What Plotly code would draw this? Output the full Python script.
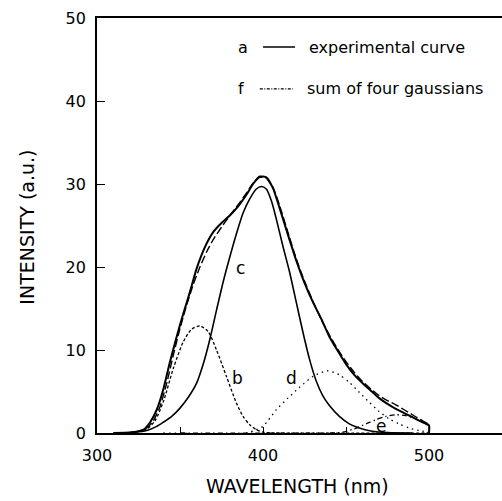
import plotly.graph_objects as go

# ---- data ----
wl_a = [310, 320, 325, 328, 332, 336, 340, 344, 348, 352, 356, 360, 365, 370, 375, 380,
        385, 390, 394, 398, 402, 406, 410, 415, 420, 425, 430, 435, 440, 445, 450, 455,
        460, 465, 470, 475, 480, 485, 490, 495, 500, 500]
int_a = [0, 0.05, 0.2, 0.4, 1.3, 2.8, 5.3, 8.6, 11.6, 14.4, 17.0, 19.8, 22.4, 24.2, 25.3, 26.2,
         27.3, 28.7, 30.0, 30.9, 30.8, 29.5, 27.1, 23.9, 20.8, 18.1, 15.8, 13.8, 11.6, 9.9, 8.3, 7.0,
         6.0, 5.1, 4.2, 3.5, 2.9, 2.4, 1.9, 1.4, 0.9, 0]

wl_f = [310, 320, 325, 330, 334, 338, 342, 346, 350, 354, 358, 362, 366, 370, 375, 380,
        385, 390, 394, 398, 402, 406, 410, 415, 420, 425, 430, 435, 440, 445, 450, 455,
        460, 465, 470, 475, 480, 485, 490, 495, 500, 500]
int_f = [0, 0.05, 0.2, 0.6, 1.5, 3.2, 6.0, 9.4, 12.6, 15.4, 17.9, 20.0, 21.8, 23.3, 24.8, 26.2,
         27.5, 28.9, 30.1, 30.8, 30.7, 29.6, 27.4, 24.2, 21.0, 18.3, 15.9, 13.7, 11.8, 10.1, 8.6, 7.3,
         6.2, 5.3, 4.5, 3.9, 3.4, 2.8, 2.2, 1.6, 1.0, 0]

wl_b = [310, 320, 330, 335, 340, 346, 352, 357, 362, 367, 372, 378, 384, 388, 392, 396, 400, 410, 500]
int_b = [0, 0.05, 0.5, 1.5, 3.8, 7.8, 11.0, 12.5, 12.9, 12.2, 10.0, 6.8, 3.6, 2.0, 1.0, 0.4, 0.1, 0, 0]

wl_c = [310, 320, 330, 336, 340, 345, 350, 355, 360, 364, 368, 372, 376, 380, 384, 388, 392,
        396, 399, 402, 405, 408, 412, 416, 420, 424, 428, 432, 436, 440, 446, 452, 458, 465, 475, 490]
int_c = [0, 0.05, 0.3, 0.8, 1.3, 2.0, 3.0, 4.3, 6.0, 8.3, 11.3, 14.8, 18.2, 21.2, 24.0, 26.5, 28.2,
         29.4, 29.7, 29.4, 28.0, 25.8, 22.5, 19.4, 15.8, 12.2, 8.9, 6.3, 4.5, 3.3, 2.0, 1.1, 0.6, 0.25, 0.05, 0]

wl_d = [340, 390, 396, 400, 408, 415, 422, 430, 439, 446, 452, 458, 464, 470, 476, 482, 488, 494, 500]
int_d = [0, 0, 0.4, 0.8, 2.8, 4.2, 5.5, 6.8, 7.5, 7.0, 6.1, 4.9, 3.7, 2.6, 1.7, 1.1, 0.6, 0.3, 0.1]

wl_e = [350, 440, 448, 455, 462, 468, 474, 480, 486, 492, 496, 500]
int_e = [0, 0, 0.1, 0.5, 1.1, 1.6, 2.0, 2.2, 2.1, 1.7, 1.3, 1.0]

x_ticks = [300, 350, 400, 450, 500]
x_tick_text = ["300", "", "400", "", "500"]
y_ticks = [0, 10, 20, 30, 40, 50]

curve_labels = ["b", "c", "d", "e"]
label_x = [384.5, 386.5, 417, 471]
label_y = [6.6, 19.9, 6.6, 0.9]

FONT = "DejaVu Sans"

fig = go.Figure()
sm = 0.7
fig.add_trace(go.Scatter(x=wl_b, y=int_b, mode="lines",
                         line=dict(color="black", width=1.3, dash="3px,2px", shape="spline", smoothing=sm)))
fig.add_trace(go.Scatter(x=wl_c, y=int_c, mode="lines",
                         line=dict(color="black", width=1.6, shape="spline", smoothing=sm)))
fig.add_trace(go.Scatter(x=wl_d, y=int_d, mode="lines",
                         line=dict(color="black", width=1.3, dash="1.5px,4px", shape="spline", smoothing=sm)))
fig.add_trace(go.Scatter(x=wl_e, y=int_e, mode="lines",
                         line=dict(color="black", width=1.3, dash="5px,3px,1.5px,3px", shape="spline", smoothing=sm)))
fig.add_trace(go.Scatter(x=wl_f, y=int_f, mode="lines",
                         line=dict(color="black", width=1.4, dash="8px,3px", shape="spline", smoothing=0.5)))
fig.add_trace(go.Scatter(x=wl_a, y=int_a, mode="lines",
                         line=dict(color="black", width=2, shape="spline", smoothing=0.5)))

for t, xx, yy in zip(curve_labels, label_x, label_y):
    fig.add_annotation(x=xx, y=yy, text=t, showarrow=False, yanchor="middle", xanchor="center",
                       font=dict(family=FONT, size=17, color="black"))

# legend drawn as text + sample lines
LEG = dict(xref="paper", yref="paper", showarrow=False, yanchor="middle",
           font=dict(family=FONT, size=16, color="black"))
fig.add_annotation(x=0.360, y=0.930, text="a", xanchor="center", **LEG)
fig.add_annotation(x=0.5185, y=0.930, xanchor="left", text="experimental curve", **LEG)
fig.add_annotation(x=0.356, y=0.829, text="f", xanchor="center", **LEG)
fig.add_annotation(x=0.5136, y=0.829, xanchor="left", text="sum of four gaussians", **LEG)
fig.add_shape(type="line", xref="paper", yref="paper", x0=0.41, x1=0.489, y0=0.930, y1=0.930,
              line=dict(color="black", width=1.6))
fig.add_shape(type="line", xref="paper", yref="paper", x0=0.402, x1=0.484, y0=0.829, y1=0.829,
              line=dict(color="black", width=1.2, dash="3px,1.5px,1px,1.5px"))

# axis titles
fig.add_annotation(xref="paper", yref="paper", x=0.496, y=-0.128, text="WAVELENGTH (nm)",
                   showarrow=False, xanchor="center", yanchor="middle",
                   font=dict(family=FONT, size=19, color="black"))
fig.add_annotation(xref="paper", yref="paper", x=-0.1716, y=0.496, text="INTENSITY (a.u.)",
                   showarrow=False, textangle=-90, xanchor="center", yanchor="middle",
                   font=dict(family=FONT, size=19, color="black"))

fig.update_layout(
    width=502, height=501,
    margin=dict(l=97, r=0, t=18, b=68),
    paper_bgcolor="white", plot_bgcolor="white",
    showlegend=False,
    font=dict(family=FONT, color="black"),
)
fig.update_xaxes(range=[300, 300 + 405 / 1.66], tickvals=x_ticks, ticktext=x_tick_text,
                 ticks="inside", ticklen=6, tickwidth=1.3, tickcolor="black",
                 showline=True, linecolor="black", linewidth=1.8, mirror=True,
                 showgrid=False, zeroline=False, ticklabelstandoff=7,
                 tickfont=dict(family=FONT, size=16, color="black"))
fig.update_yaxes(range=[0, 50], tickvals=y_ticks,
                 ticks="inside", ticklen=8, tickwidth=1.3, tickcolor="black",
                 showline=True, linecolor="black", linewidth=1.8, mirror=False,
                 showgrid=False, zeroline=False, ticklabelstandoff=6,
                 tickfont=dict(family=FONT, size=16, color="black"))

fig.write_html("out.html")
